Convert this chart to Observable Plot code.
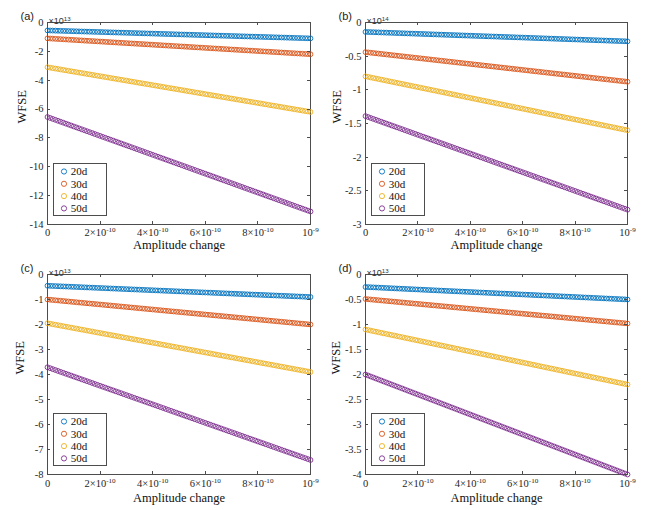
<!DOCTYPE html>
<html>
<head>
<meta charset="utf-8">
<script src="https://cdn.jsdelivr.net/npm/d3@7"></script>
<script src="https://cdn.jsdelivr.net/npm/@observablehq/plot@0.6"></script>
<style>
  html, body { margin: 0; padding: 0; background: #fff; }
  #wrap { position: relative; width: 649px; height: 510px; background: #fff; overflow: hidden; }
  #wrap svg { position: absolute; overflow: visible; }
</style>
</head>
<body>
<div id="wrap"></div>
<script>
// ---- data ----
// x: amplitude change, in units of 1e-11
const xSteps = [0,1,2,3,4,5,6,7,8,9,10,11,12,13,14,15,16,17,18,19,20,21,22,23,24,25,26,27,28,29,30,31,32,33,34,35,36,37,38,39,40,41,42,43,44,45,46,47,48,49,50,51,52,53,54,55,56,57,58,59,60,61,62,63,64,65,66,67,68,69,70,71,72,73,74,75,76,77,78,79,80,81,82,83,84,85,86,87,88,89,90,91,92,93,94,95,96,97,98,99,100];
const seriesNames = ["20d", "30d", "40d", "50d"];
const seriesColors = ["#0072BD", "#D95319", "#EDB120", "#7E2F8E"];
const xTicks = [0, 20, 40, 60, 80, 100];
const xTickLabels = ["0", "2×10^-10", "4×10^-10", "6×10^-10", "8×10^-10", "10^-9"];

// WFSE values, in units of 1e-4 of the panel's axis multiplier
// (a) axis ×10^13
const a20 = [-5500,-5555,-5610,-5665,-5720,-5775,-5830,-5885,-5940,-5995,-6050,-6105,-6160,-6215,-6270,-6325,-6380,-6435,-6490,-6545,-6600,-6655,-6710,-6765,-6820,-6875,-6930,-6985,-7040,-7095,-7150,-7205,-7260,-7315,-7370,-7425,-7480,-7535,-7590,-7645,-7700,-7755,-7810,-7865,-7920,-7975,-8030,-8085,-8140,-8195,-8250,-8305,-8360,-8415,-8470,-8525,-8580,-8635,-8690,-8745,-8800,-8855,-8910,-8965,-9020,-9075,-9130,-9185,-9240,-9295,-9350,-9405,-9460,-9515,-9570,-9625,-9680,-9735,-9790,-9845,-9900,-9955,-10010,-10065,-10120,-10175,-10230,-10285,-10340,-10395,-10450,-10505,-10560,-10615,-10670,-10725,-10780,-10835,-10890,-10945,-11000];
const a30 = [-11000,-11110,-11220,-11330,-11440,-11550,-11660,-11770,-11880,-11990,-12100,-12210,-12320,-12430,-12540,-12650,-12760,-12870,-12980,-13090,-13200,-13310,-13420,-13530,-13640,-13750,-13860,-13970,-14080,-14190,-14300,-14410,-14520,-14630,-14740,-14850,-14960,-15070,-15180,-15290,-15400,-15510,-15620,-15730,-15840,-15950,-16060,-16170,-16280,-16390,-16500,-16610,-16720,-16830,-16940,-17050,-17160,-17270,-17380,-17490,-17600,-17710,-17820,-17930,-18040,-18150,-18260,-18370,-18480,-18590,-18700,-18810,-18920,-19030,-19140,-19250,-19360,-19470,-19580,-19690,-19800,-19910,-20020,-20130,-20240,-20350,-20460,-20570,-20680,-20790,-20900,-21010,-21120,-21230,-21340,-21450,-21560,-21670,-21780,-21890,-22000];
const a40 = [-31000,-31310,-31620,-31930,-32240,-32550,-32860,-33170,-33480,-33790,-34100,-34410,-34720,-35030,-35340,-35650,-35960,-36270,-36580,-36890,-37200,-37510,-37820,-38130,-38440,-38750,-39060,-39370,-39680,-39990,-40300,-40610,-40920,-41230,-41540,-41850,-42160,-42470,-42780,-43090,-43400,-43710,-44020,-44330,-44640,-44950,-45260,-45570,-45880,-46190,-46500,-46810,-47120,-47430,-47740,-48050,-48360,-48670,-48980,-49290,-49600,-49910,-50220,-50530,-50840,-51150,-51460,-51770,-52080,-52390,-52700,-53010,-53320,-53630,-53940,-54250,-54560,-54870,-55180,-55490,-55800,-56110,-56420,-56730,-57040,-57350,-57660,-57970,-58280,-58590,-58900,-59210,-59520,-59830,-60140,-60450,-60760,-61070,-61380,-61690,-62000];
const a50 = [-65500,-66155,-66810,-67465,-68120,-68775,-69430,-70085,-70740,-71395,-72050,-72705,-73360,-74015,-74670,-75325,-75980,-76635,-77290,-77945,-78600,-79255,-79910,-80565,-81220,-81875,-82530,-83185,-83840,-84495,-85150,-85805,-86460,-87115,-87770,-88425,-89080,-89735,-90390,-91045,-91700,-92355,-93010,-93665,-94320,-94975,-95630,-96285,-96940,-97595,-98250,-98905,-99560,-100215,-100870,-101525,-102180,-102835,-103490,-104145,-104800,-105455,-106110,-106765,-107420,-108075,-108730,-109385,-110040,-110695,-111350,-112005,-112660,-113315,-113970,-114625,-115280,-115935,-116590,-117245,-117900,-118555,-119210,-119865,-120520,-121175,-121830,-122485,-123140,-123795,-124450,-125105,-125760,-126415,-127070,-127725,-128380,-129035,-129690,-130345,-131000];
// (b) axis ×10^14
const b20 = [-1400,-1414,-1428,-1442,-1456,-1470,-1484,-1498,-1512,-1526,-1540,-1554,-1568,-1582,-1596,-1610,-1624,-1638,-1652,-1666,-1680,-1694,-1708,-1722,-1736,-1750,-1764,-1778,-1792,-1806,-1820,-1834,-1848,-1862,-1876,-1890,-1904,-1918,-1932,-1946,-1960,-1974,-1988,-2002,-2016,-2030,-2044,-2058,-2072,-2086,-2100,-2114,-2128,-2142,-2156,-2170,-2184,-2198,-2212,-2226,-2240,-2254,-2268,-2282,-2296,-2310,-2324,-2338,-2352,-2366,-2380,-2394,-2408,-2422,-2436,-2450,-2464,-2478,-2492,-2506,-2520,-2534,-2548,-2562,-2576,-2590,-2604,-2618,-2632,-2646,-2660,-2674,-2688,-2702,-2716,-2730,-2744,-2758,-2772,-2786,-2800];
const b30 = [-4400,-4444,-4488,-4532,-4576,-4620,-4664,-4708,-4752,-4796,-4840,-4884,-4928,-4972,-5016,-5060,-5104,-5148,-5192,-5236,-5280,-5324,-5368,-5412,-5456,-5500,-5544,-5588,-5632,-5676,-5720,-5764,-5808,-5852,-5896,-5940,-5984,-6028,-6072,-6116,-6160,-6204,-6248,-6292,-6336,-6380,-6424,-6468,-6512,-6556,-6600,-6644,-6688,-6732,-6776,-6820,-6864,-6908,-6952,-6996,-7040,-7084,-7128,-7172,-7216,-7260,-7304,-7348,-7392,-7436,-7480,-7524,-7568,-7612,-7656,-7700,-7744,-7788,-7832,-7876,-7920,-7964,-8008,-8052,-8096,-8140,-8184,-8228,-8272,-8316,-8360,-8404,-8448,-8492,-8536,-8580,-8624,-8668,-8712,-8756,-8800];
const b40 = [-8000,-8080,-8160,-8240,-8320,-8400,-8480,-8560,-8640,-8720,-8800,-8880,-8960,-9040,-9120,-9200,-9280,-9360,-9440,-9520,-9600,-9680,-9760,-9840,-9920,-10000,-10080,-10160,-10240,-10320,-10400,-10480,-10560,-10640,-10720,-10800,-10880,-10960,-11040,-11120,-11200,-11280,-11360,-11440,-11520,-11600,-11680,-11760,-11840,-11920,-12000,-12080,-12160,-12240,-12320,-12400,-12480,-12560,-12640,-12720,-12800,-12880,-12960,-13040,-13120,-13200,-13280,-13360,-13440,-13520,-13600,-13680,-13760,-13840,-13920,-14000,-14080,-14160,-14240,-14320,-14400,-14480,-14560,-14640,-14720,-14800,-14880,-14960,-15040,-15120,-15200,-15280,-15360,-15440,-15520,-15600,-15680,-15760,-15840,-15920,-16000];
const b50 = [-13900,-14039,-14178,-14317,-14456,-14595,-14734,-14873,-15012,-15151,-15290,-15429,-15568,-15707,-15846,-15985,-16124,-16263,-16402,-16541,-16680,-16819,-16958,-17097,-17236,-17375,-17514,-17653,-17792,-17931,-18070,-18209,-18348,-18487,-18626,-18765,-18904,-19043,-19182,-19321,-19460,-19599,-19738,-19877,-20016,-20155,-20294,-20433,-20572,-20711,-20850,-20989,-21128,-21267,-21406,-21545,-21684,-21823,-21962,-22101,-22240,-22379,-22518,-22657,-22796,-22935,-23074,-23213,-23352,-23491,-23630,-23769,-23908,-24047,-24186,-24325,-24464,-24603,-24742,-24881,-25020,-25159,-25298,-25437,-25576,-25715,-25854,-25993,-26132,-26271,-26410,-26549,-26688,-26827,-26966,-27105,-27244,-27383,-27522,-27661,-27800];
// (c) axis ×10^13
const c20 = [-4500,-4545,-4590,-4635,-4680,-4725,-4770,-4815,-4860,-4905,-4950,-4995,-5040,-5085,-5130,-5175,-5220,-5265,-5310,-5355,-5400,-5445,-5490,-5535,-5580,-5625,-5670,-5715,-5760,-5805,-5850,-5895,-5940,-5985,-6030,-6075,-6120,-6165,-6210,-6255,-6300,-6345,-6390,-6435,-6480,-6525,-6570,-6615,-6660,-6705,-6750,-6795,-6840,-6885,-6930,-6975,-7020,-7065,-7110,-7155,-7200,-7245,-7290,-7335,-7380,-7425,-7470,-7515,-7560,-7605,-7650,-7695,-7740,-7785,-7830,-7875,-7920,-7965,-8010,-8055,-8100,-8145,-8190,-8235,-8280,-8325,-8370,-8415,-8460,-8505,-8550,-8595,-8640,-8685,-8730,-8775,-8820,-8865,-8910,-8955,-9000];
const c30 = [-10000,-10100,-10200,-10300,-10400,-10500,-10600,-10700,-10800,-10900,-11000,-11100,-11200,-11300,-11400,-11500,-11600,-11700,-11800,-11900,-12000,-12100,-12200,-12300,-12400,-12500,-12600,-12700,-12800,-12900,-13000,-13100,-13200,-13300,-13400,-13500,-13600,-13700,-13800,-13900,-14000,-14100,-14200,-14300,-14400,-14500,-14600,-14700,-14800,-14900,-15000,-15100,-15200,-15300,-15400,-15500,-15600,-15700,-15800,-15900,-16000,-16100,-16200,-16300,-16400,-16500,-16600,-16700,-16800,-16900,-17000,-17100,-17200,-17300,-17400,-17500,-17600,-17700,-17800,-17900,-18000,-18100,-18200,-18300,-18400,-18500,-18600,-18700,-18800,-18900,-19000,-19100,-19200,-19300,-19400,-19500,-19600,-19700,-19800,-19900,-20000];
const c40 = [-19500,-19695,-19890,-20085,-20280,-20475,-20670,-20865,-21060,-21255,-21450,-21645,-21840,-22035,-22230,-22425,-22620,-22815,-23010,-23205,-23400,-23595,-23790,-23985,-24180,-24375,-24570,-24765,-24960,-25155,-25350,-25545,-25740,-25935,-26130,-26325,-26520,-26715,-26910,-27105,-27300,-27495,-27690,-27885,-28080,-28275,-28470,-28665,-28860,-29055,-29250,-29445,-29640,-29835,-30030,-30225,-30420,-30615,-30810,-31005,-31200,-31395,-31590,-31785,-31980,-32175,-32370,-32565,-32760,-32955,-33150,-33345,-33540,-33735,-33930,-34125,-34320,-34515,-34710,-34905,-35100,-35295,-35490,-35685,-35880,-36075,-36270,-36465,-36660,-36855,-37050,-37245,-37440,-37635,-37830,-38025,-38220,-38415,-38610,-38805,-39000];
const c50 = [-37100,-37471,-37842,-38213,-38584,-38955,-39326,-39697,-40068,-40439,-40810,-41181,-41552,-41923,-42294,-42665,-43036,-43407,-43778,-44149,-44520,-44891,-45262,-45633,-46004,-46375,-46746,-47117,-47488,-47859,-48230,-48601,-48972,-49343,-49714,-50085,-50456,-50827,-51198,-51569,-51940,-52311,-52682,-53053,-53424,-53795,-54166,-54537,-54908,-55279,-55650,-56021,-56392,-56763,-57134,-57505,-57876,-58247,-58618,-58989,-59360,-59731,-60102,-60473,-60844,-61215,-61586,-61957,-62328,-62699,-63070,-63441,-63812,-64183,-64554,-64925,-65296,-65667,-66038,-66409,-66780,-67151,-67522,-67893,-68264,-68635,-69006,-69377,-69748,-70119,-70490,-70861,-71232,-71603,-71974,-72345,-72716,-73087,-73458,-73829,-74200];
// (d) axis ×10^13
const d20 = [-2500,-2525,-2550,-2575,-2600,-2625,-2650,-2675,-2700,-2725,-2750,-2775,-2800,-2825,-2850,-2875,-2900,-2925,-2950,-2975,-3000,-3025,-3050,-3075,-3100,-3125,-3150,-3175,-3200,-3225,-3250,-3275,-3300,-3325,-3350,-3375,-3400,-3425,-3450,-3475,-3500,-3525,-3550,-3575,-3600,-3625,-3650,-3675,-3700,-3725,-3750,-3775,-3800,-3825,-3850,-3875,-3900,-3925,-3950,-3975,-4000,-4025,-4050,-4075,-4100,-4125,-4150,-4175,-4200,-4225,-4250,-4275,-4300,-4325,-4350,-4375,-4400,-4425,-4450,-4475,-4500,-4525,-4550,-4575,-4600,-4625,-4650,-4675,-4700,-4725,-4750,-4775,-4800,-4825,-4850,-4875,-4900,-4925,-4950,-4975,-5000];
const d30 = [-4900,-4949,-4998,-5047,-5096,-5145,-5194,-5243,-5292,-5341,-5390,-5439,-5488,-5537,-5586,-5635,-5684,-5733,-5782,-5831,-5880,-5929,-5978,-6027,-6076,-6125,-6174,-6223,-6272,-6321,-6370,-6419,-6468,-6517,-6566,-6615,-6664,-6713,-6762,-6811,-6860,-6909,-6958,-7007,-7056,-7105,-7154,-7203,-7252,-7301,-7350,-7399,-7448,-7497,-7546,-7595,-7644,-7693,-7742,-7791,-7840,-7889,-7938,-7987,-8036,-8085,-8134,-8183,-8232,-8281,-8330,-8379,-8428,-8477,-8526,-8575,-8624,-8673,-8722,-8771,-8820,-8869,-8918,-8967,-9016,-9065,-9114,-9163,-9212,-9261,-9310,-9359,-9408,-9457,-9506,-9555,-9604,-9653,-9702,-9751,-9800];
const d40 = [-11000,-11110,-11220,-11330,-11440,-11550,-11660,-11770,-11880,-11990,-12100,-12210,-12320,-12430,-12540,-12650,-12760,-12870,-12980,-13090,-13200,-13310,-13420,-13530,-13640,-13750,-13860,-13970,-14080,-14190,-14300,-14410,-14520,-14630,-14740,-14850,-14960,-15070,-15180,-15290,-15400,-15510,-15620,-15730,-15840,-15950,-16060,-16170,-16280,-16390,-16500,-16610,-16720,-16830,-16940,-17050,-17160,-17270,-17380,-17490,-17600,-17710,-17820,-17930,-18040,-18150,-18260,-18370,-18480,-18590,-18700,-18810,-18920,-19030,-19140,-19250,-19360,-19470,-19580,-19690,-19800,-19910,-20020,-20130,-20240,-20350,-20460,-20570,-20680,-20790,-20900,-21010,-21120,-21230,-21340,-21450,-21560,-21670,-21780,-21890,-22000];
const d50 = [-20000,-20200,-20400,-20600,-20800,-21000,-21200,-21400,-21600,-21800,-22000,-22200,-22400,-22600,-22800,-23000,-23200,-23400,-23600,-23800,-24000,-24200,-24400,-24600,-24800,-25000,-25200,-25400,-25600,-25800,-26000,-26200,-26400,-26600,-26800,-27000,-27200,-27400,-27600,-27800,-28000,-28200,-28400,-28600,-28800,-29000,-29200,-29400,-29600,-29800,-30000,-30200,-30400,-30600,-30800,-31000,-31200,-31400,-31600,-31800,-32000,-32200,-32400,-32600,-32800,-33000,-33200,-33400,-33600,-33800,-34000,-34200,-34400,-34600,-34800,-35000,-35200,-35400,-35600,-35800,-36000,-36200,-36400,-36600,-36800,-37000,-37200,-37400,-37600,-37800,-38000,-38200,-38400,-38600,-38800,-39000,-39200,-39400,-39600,-39800,-40000];

const yTicksA = [0, -2, -4, -6, -8, -10, -12, -14];
const yTicksB = [0, -0.5, -1, -1.5, -2, -2.5, -3];
const yTicksC = [0, -1, -2, -3, -4, -5, -6, -7, -8];
const yTicksD = [0, -0.5, -1, -1.5, -2, -2.5, -3, -3.5, -4];
const panelTags = ["(a)", "(b)", "(c)", "(d)"];
const panelExps = ["13", "14", "13", "13"];
const xLabel = "Amplitude change";
const yLabel = "WFSE";

// ---- layout ----
const SERIF = "'Liberation Serif', 'Times New Roman', serif";
const SANS = "'Liberation Sans', Arial, sans-serif";
const panels = [
  {tag: panelTags[0], exp: panelExps[0], series: [a20, a30, a40, a50], yTicks: yTicksA, left: 0,   top: 0,   mr: 14, mb: 34, ylDx: -26, xlDy: 24, xPad: 4},
  {tag: panelTags[1], exp: panelExps[1], series: [b20, b30, b40, b50], yTicks: yTicksB, left: 318, top: 0,   mr: 15, mb: 34, ylDx: -29, xlDy: 24, xPad: 4},
  {tag: panelTags[2], exp: panelExps[2], series: [c20, c30, c40, c50], yTicks: yTicksC, left: 0,   top: 252, mr: 14, mb: 36, ylDx: -28, xlDy: 27, xPad: 5},
  {tag: panelTags[3], exp: panelExps[3], series: [d20, d30, d40, d50], yTicks: yTicksD, left: 318, top: 252, mr: 15, mb: 36, ylDx: -30, xlDy: 27, xPad: 5}
];
const W = 324, H = 258, ML = 47, MT = 22;

function supify(svg) {
  d3.select(svg).selectAll("text").each(function () {
    const t = this.textContent;
    if (!t || t.indexOf("^") < 0) return;
    const [b, s] = t.split("^");
    const sel = d3.select(this);
    sel.selectAll("*").remove();
    sel.text(null);
    sel.append("tspan").text(b);
    sel.append("tspan").attr("dy", "-0.5em").attr("font-size", "0.68em").text(s);
  });
}

const wrap = document.getElementById("wrap");
panels.forEach((p) => {
  const rows = [];
  seriesNames.forEach((n, k) => p.series[k].forEach((v, i) => rows.push({x: xSteps[i], y: v / 1e4, s: n})));
  const yMin = p.yTicks[p.yTicks.length - 1];
  const plot = Plot.plot({
    width: W, height: H,
    marginLeft: ML, marginRight: p.mr, marginTop: MT, marginBottom: p.mb,
    style: {fontFamily: SERIF, fontSize: "10.5px", color: "#262626", background: "transparent", overflow: "visible"},
    x: {domain: [0, 100], ticks: xTicks, tickFormat: (d) => xTickLabels[xTicks.indexOf(d)], tickSize: 0, tickPadding: p.xPad, label: null},
    y: {domain: [yMin, 0], ticks: p.yTicks, tickFormat: (d) => String(d), tickSize: 0, tickPadding: 4, label: null},
    color: {domain: seriesNames, range: seriesColors},
    marks: [
      Plot.frame({stroke: "#4d4d4d", strokeWidth: 1}),
      Plot.dot(rows, {x: "x", y: "y", stroke: "s", fill: "none", r: 2.4, strokeWidth: 0.9}),
      Plot.text([p.tag], {frameAnchor: "top-left", dx: -27, dy: -10, fontFamily: SANS, fontSize: 11, fill: "#222"}),
      Plot.text(["×10^" + p.exp], {frameAnchor: "top-left", textAnchor: "start", dx: 1, dy: -5, fontFamily: SANS, fontSize: 9, fill: "#333"}),
      Plot.text([yLabel], {frameAnchor: "left", dx: p.ylDx, rotate: -90, fontFamily: SERIF, fontSize: 12.5, fill: "#111"}),
      Plot.text([xLabel], {frameAnchor: "bottom", dy: p.xlDy, fontFamily: SERIF, fontSize: 12.5, fill: "#111"})
    ]
  });
  plot.style.left = p.left + "px";
  plot.style.top = p.top + "px";
  supify(plot);

  // inward tick marks on all four sides (MATLAB box style)
  const sx = plot.scale("x"), sy = plot.scale("y");
  const fx = (v) => sx.range[0] + (v - sx.domain[0]) / (sx.domain[1] - sx.domain[0]) * (sx.range[1] - sx.range[0]);
  const fy = (v) => sy.range[0] + (v - sy.domain[0]) / (sy.domain[1] - sy.domain[0]) * (sy.range[1] - sy.range[0]);
  const x0 = ML, x1 = W - p.mr, y0 = MT, y1 = H - p.mb;
  const g = d3.select(plot).append("g").attr("stroke", "#4d4d4d").attr("stroke-width", 1);
  xTicks.forEach((t) => {
    const X = Math.round(fx(t)) + 0.5;
    g.append("line").attr("x1", X).attr("x2", X).attr("y1", y1).attr("y2", y1 - 3);
    g.append("line").attr("x1", X).attr("x2", X).attr("y1", y0).attr("y2", y0 + 3);
  });
  p.yTicks.forEach((t) => {
    const Y = Math.round(fy(t)) + 0.5;
    g.append("line").attr("x1", x0).attr("x2", x0 + 3).attr("y1", Y).attr("y2", Y);
    g.append("line").attr("x1", x1).attr("x2", x1 - 3).attr("y1", Y).attr("y2", Y);
  });

  // legend box (bottom-left inside the axes)
  const lg = d3.select(plot).append("g").attr("transform", `translate(${x0 + 6},${y1 - 61})`);
  lg.append("rect").attr("x", 0.5).attr("y", 0.5).attr("width", 53).attr("height", 52)
    .attr("fill", "#fff").attr("stroke", "#4d4d4d").attr("stroke-width", 1);
  seriesNames.forEach((n, k) => {
    const cy = 8.5 + k * 12.3;
    lg.append("circle").attr("cx", 11).attr("cy", cy).attr("r", 2.6)
      .attr("fill", "none").attr("stroke", seriesColors[k]).attr("stroke-width", 0.9);
    lg.append("text").attr("x", 26).attr("y", cy).attr("dy", "0.35em")
      .attr("font-family", SERIF).attr("font-size", 11).attr("fill", "#111").text(n);
  });

  wrap.appendChild(plot);
});
</script>
</body>
</html>
